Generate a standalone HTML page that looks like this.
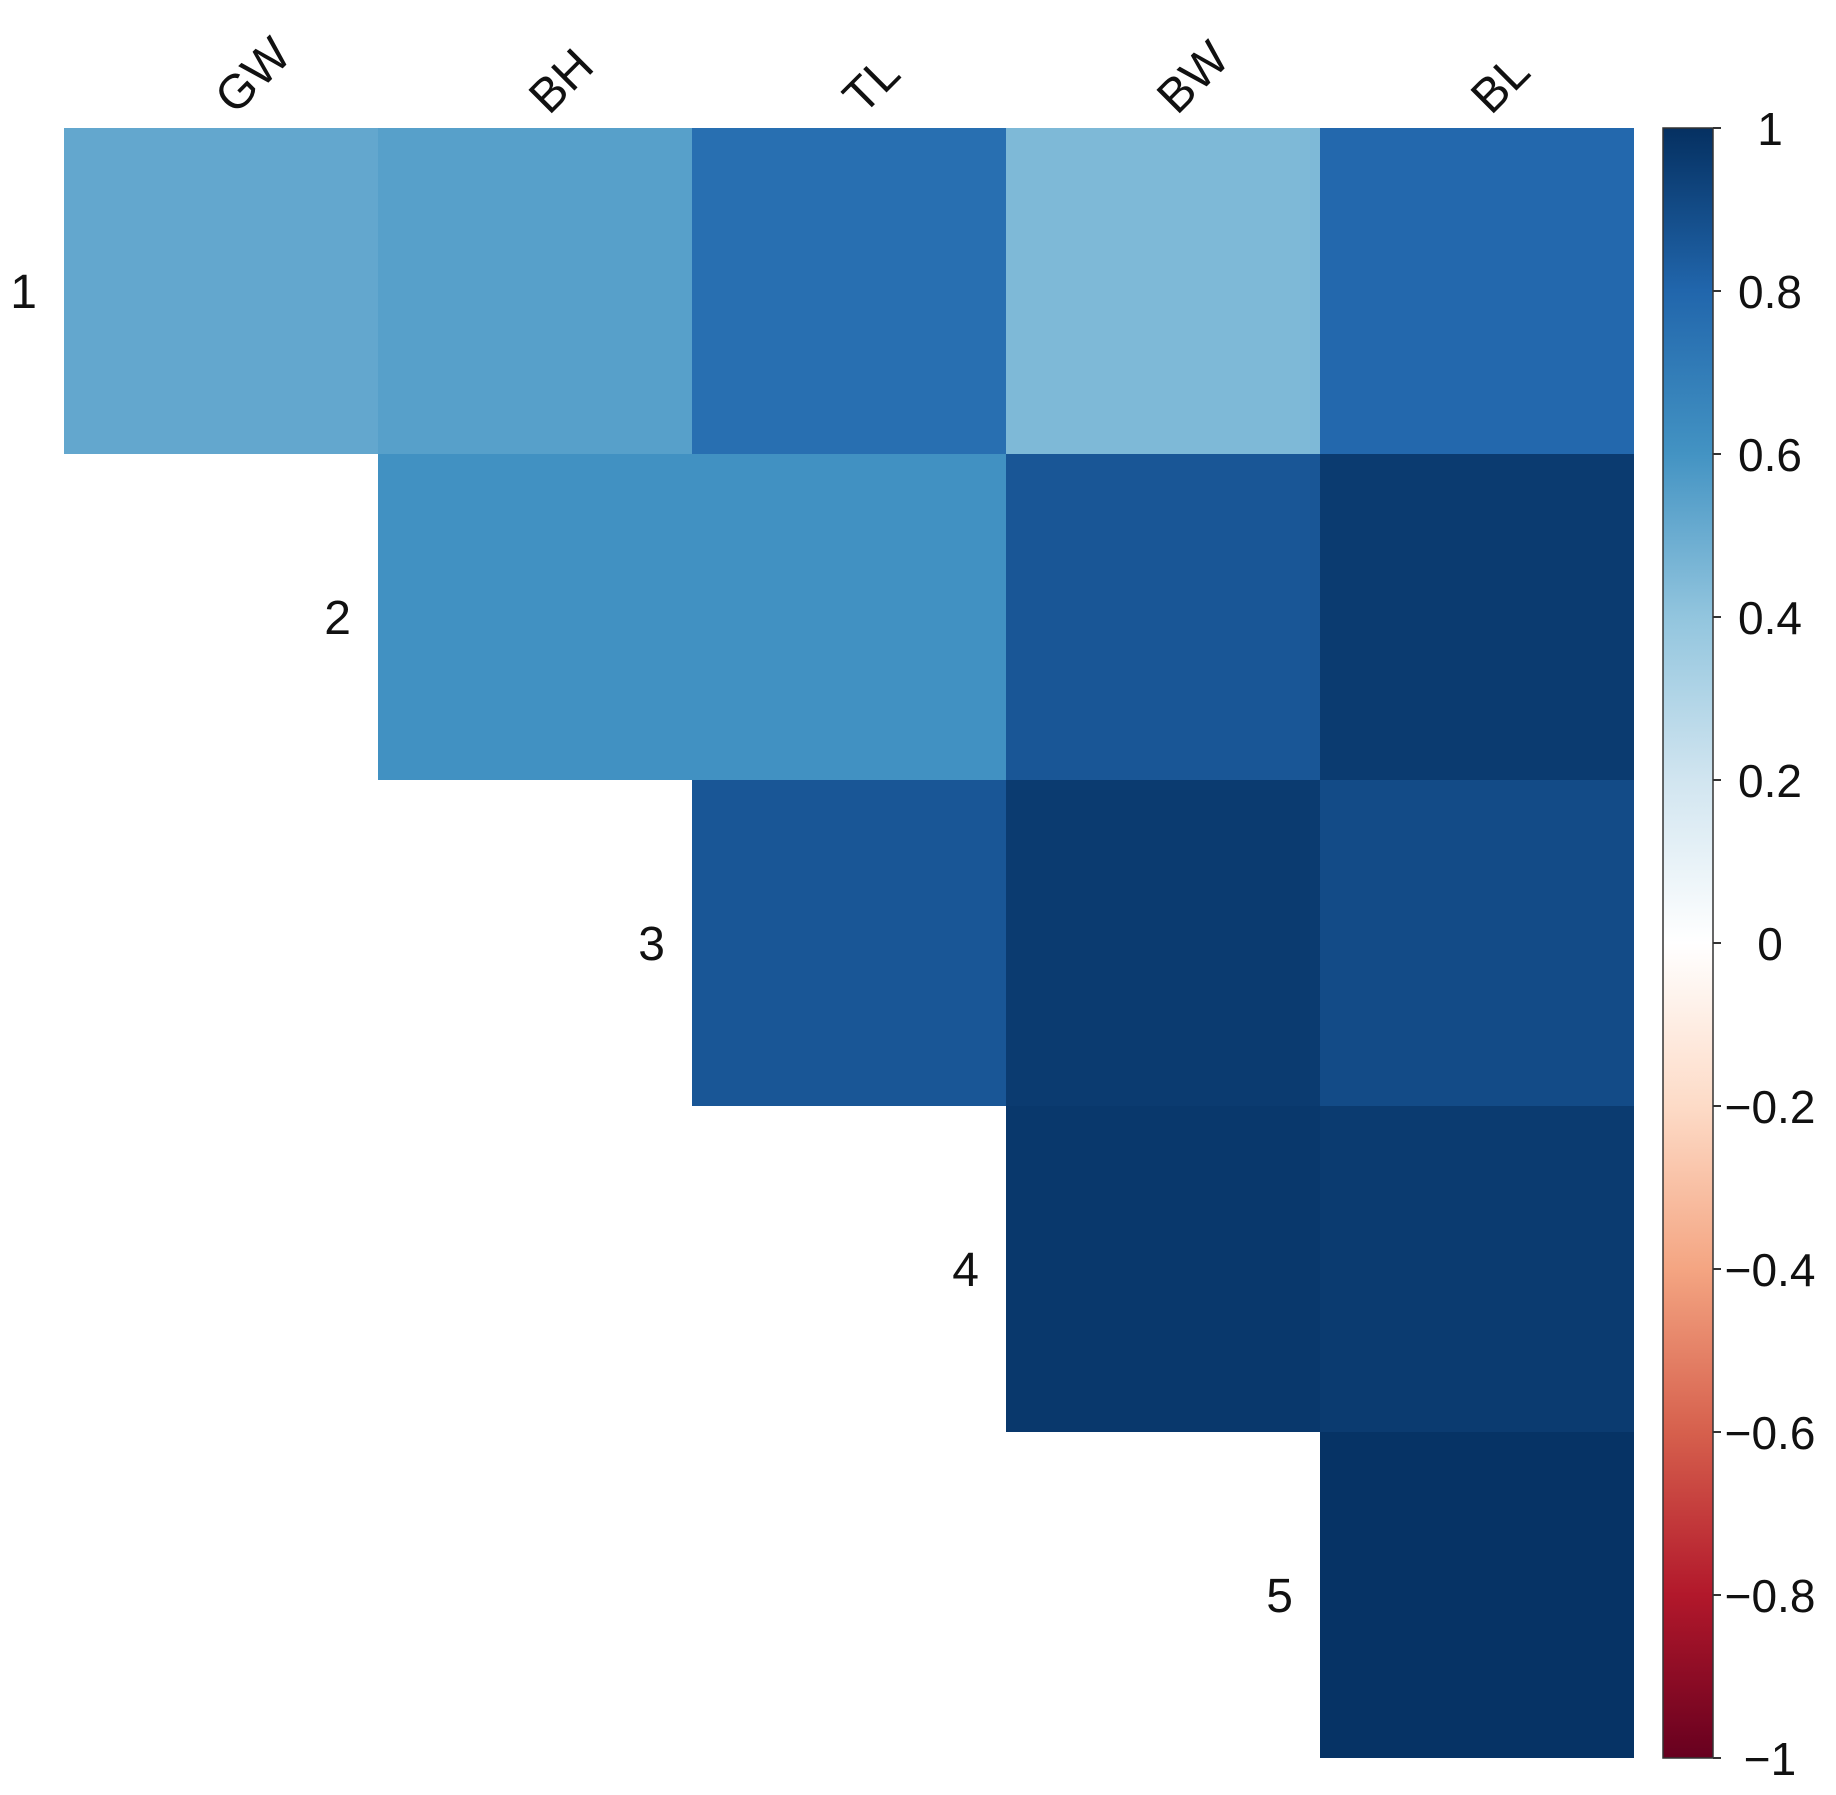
<!DOCTYPE html>
<html><head><meta charset="utf-8"><style>
html,body{margin:0;padding:0;background:#fff;}
svg{display:block;font-family:"Liberation Sans",Arial,sans-serif;}
</style></head><body>
<svg id="chart" width="1836" height="1795" viewBox="0 0 1836 1795">
<defs>
<linearGradient id="cbar" x1="0" y1="1" x2="0" y2="0">
<stop offset="0" stop-color="#67001F"/><stop offset="0.1" stop-color="#B2182B"/>
<stop offset="0.2" stop-color="#D6604D"/><stop offset="0.3" stop-color="#F4A582"/>
<stop offset="0.4" stop-color="#FDDBC7"/><stop offset="0.5" stop-color="#FFFFFF"/>
<stop offset="0.6" stop-color="#D1E5F0"/><stop offset="0.7" stop-color="#92C5DE"/>
<stop offset="0.8" stop-color="#4393C3"/><stop offset="0.9" stop-color="#2166AC"/>
<stop offset="1" stop-color="#053061"/>
</linearGradient>
</defs>
<g id="cells"></g>
<g id="labels"></g>
<g id="legend"></g>
</svg>
<script>
const columns = ["GW","BH","TL","BW","BL"];
const rows = ["1","2","3","4","5"];
const row1 = [0.52, 0.55, 0.76, 0.45, 0.79];
const row2 = [null, 0.61, 0.61, 0.86, 0.96];
const row3 = [null, null, 0.86, 0.96, 0.90];
const row4 = [null, null, null, 0.97, 0.96];
const row5 = [null, null, null, null, 0.99];
const legendTicks = [1,0.8,0.6,0.4,0.2,0,-0.2,-0.4,-0.6,-0.8,-1];
const legendTickLabels = ["1","0.8","0.6","0.4","0.2","0","\u22120.2","\u22120.4","\u22120.6","\u22120.8","\u22121"];
const palette = ["#67001F","#B2182B","#D6604D","#F4A582","#FDDBC7","#FFFFFF","#D1E5F0","#92C5DE","#4393C3","#2166AC","#053061"];
const matrix = [row1,row2,row3,row4,row5];

(function(){
const NS="http://www.w3.org/2000/svg";
const gridLeft=64, gridTop=128, cellW=314, cellH=326;
const xPos = i => gridLeft + i*cellW;
const yPos = j => gridTop + j*cellH;
const cbX=1663, cbW=50, cbTop=128, cbBot=1758;
const cbY = v => cbTop + (1 - v)/2*(cbBot-cbTop);

function hex(c){return [1,3,5].map(k=>parseInt(c.substr(k,2),16));}
function color(v){
  const t=(v+1)/2*(palette.length-1);
  const i=Math.min(Math.floor(t),palette.length-2), f=t-i;
  const a=hex(palette[i]), b=hex(palette[i+1]);
  return "rgb("+a.map((x,k)=>Math.round(x+(b[k]-x)*f)).join(",")+")";
}
function mk(tag,attrs,parent){const e=document.createElementNS(NS,tag);for(const k in attrs)e.setAttribute(k,attrs[k]);parent.appendChild(e);return e;}

const gCells=document.getElementById("cells"), gLab=document.getElementById("labels"), gLeg=document.getElementById("legend");
matrix.forEach((r,j)=>{
  r.forEach((v,i)=>{
    if(v===null) return;
    const el=mk("rect",{x:xPos(i),y:yPos(j),width:cellW,height:cellH,fill:color(v)},gCells);
    
    
  });
});
columns.forEach((c,i)=>{
  const cx=xPos(i)+cellW/2+14, cy=gridTop-12;
  const t=mk("text",{x:cx,y:cy,"font-size":48,fill:"#111",transform:"rotate(-45 "+cx+" "+cy+")"},gLab);
  t.textContent=c;
  
  
});
rows.forEach((r,j)=>{
  const t=mk("text",{x:xPos(j)-27,y:yPos(j)+cellH/2+17,"font-size":48,fill:"#111","text-anchor":"end"},gLab);
  t.textContent=r;
  
  
});
const bar=mk("rect",{x:cbX,y:cbTop,width:cbW,height:cbBot-cbTop,fill:"url(#cbar)",stroke:"#333","stroke-width":1.5},gLeg);


legendTicks.forEach((v,k)=>{
  const y=cbY(v);
  const tk=mk("line",{x1:cbX+cbW,x2:cbX+cbW+8,y1:y,y2:y,stroke:"#333","stroke-width":2},gLeg);
  
  
  const t=mk("text",{x:1770,y:y+17,"font-size":46,fill:"#111","text-anchor":"middle"},gLeg);
  t.textContent=legendTickLabels[k];
  
  
});
})();
</script>
</body></html>
